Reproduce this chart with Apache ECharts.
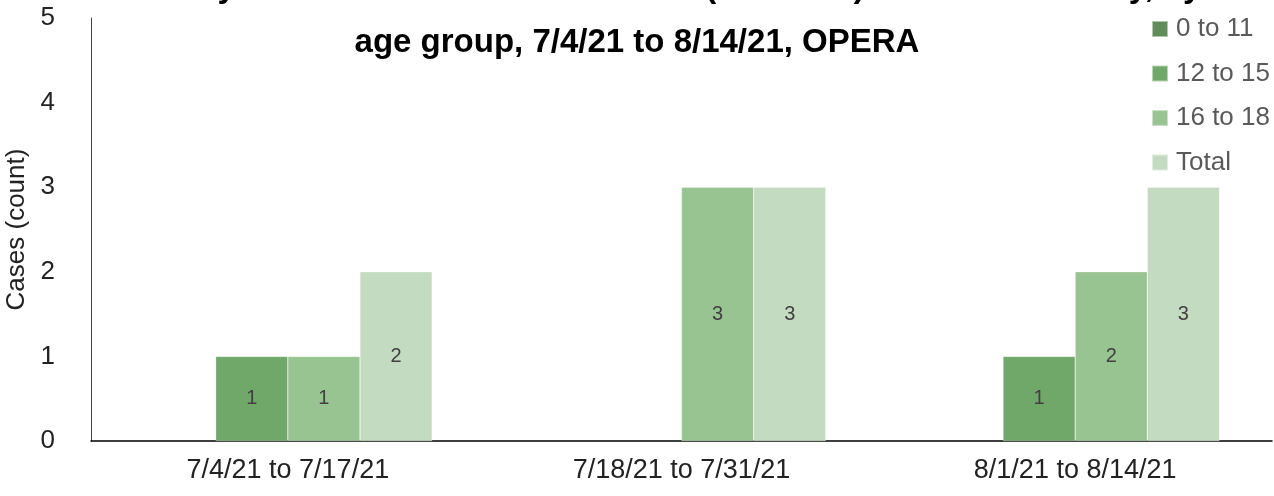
<!DOCTYPE html>
<html>
<head>
<meta charset="utf-8">
<title>Cases by age group</title>
<script src="https://cdn.jsdelivr.net/npm/echarts@6/dist/echarts.min.js"></script>
<style>
  html, body {
    margin: 0;
    padding: 0;
    background: #fff;
  }
  #main {
    width: 1274px;
    height: 496px;
  }
</style>
</head>
<body>
<div id="main"></div>
<script>
// 数据
const periods = ['7/4/21 to 7/17/21', '7/18/21 to 7/31/21', '8/1/21 to 8/14/21'];
const ageGroups = ['0 to 11', '12 to 15', '16 to 18', 'Total'];
const age0to11 = [null, null, null];
const age12to15 = [1, null, 1];
const age16to18 = [1, 3, 2];
const totals = [2, 3, 3];
const yTicks = [0, 1, 2, 3, 4, 5];

const barColors = ['#5f8c58', '#70a869', '#98c491', '#c3dbc0'];
const FONT = '"Liberation Sans", Arial, sans-serif';

// 每个系列一组柱子
function makeSeries(name, values, color) {
  return {
    name: name,
    type: 'bar',
    data: values,
    barGap: '0%',
    barCategoryGap: '26.7%',
    itemStyle: {
      color: color,
      borderColor: 'rgba(255,255,255,0.5)',
      borderWidth: 0.5
    },
    label: {
      show: true,
      position: 'inside',
      fontFamily: FONT,
      fontSize: 20,
      color: '#404040'
    }
  };
}

function drawChart() {
  const chartDom = document.getElementById('main');
  const myChart = echarts.init(chartDom, null, { renderer: 'canvas' });

  const option = {
    animation: false,
    textStyle: { fontFamily: FONT },
    title: [
      {
        // 第一行标题在画面外，只露出底部
        text: 'Cases in youth associated with schools (under 19) in OPERA county, by',
        left: 'center',
        top: -34,
        textStyle: { fontFamily: FONT, fontWeight: 'bold', fontSize: 33, color: '#000' }
      },
      {
        text: 'age group, 7/4/21 to 8/14/21, OPERA',
        left: 'center',
        top: 21,
        textStyle: { fontFamily: FONT, fontWeight: 'bold', fontSize: 33, color: '#000' }
      }
    ],
    legend: {
      orient: 'vertical',
      left: 1151,
      top: 16,
      padding: 0,
      icon: 'rect',
      itemWidth: 16,
      itemHeight: 16,
      itemGap: 18.5,
      data: ageGroups,
      textStyle: {
        fontFamily: FONT,
        fontSize: 26,
        lineHeight: 26,
        color: '#595959',
        padding: [0, 0, 0, 3]
      }
    },
    grid: {
      left: 91,
      right: 2,
      top: 18,
      bottom: 55,
      containLabel: false,
      outerBoundsMode: 'none'
    },
    xAxis: {
      type: 'category',
      data: periods,
      axisLine: { show: true, lineStyle: { color: '#000', width: 1.5 } },
      axisTick: { show: false },
      axisLabel: {
        fontFamily: FONT,
        fontSize: 27,
        color: '#222',
        margin: 16
      }
    },
    yAxis: {
      type: 'value',
      min: yTicks[0],
      max: yTicks[yTicks.length - 1],
      interval: 1,
      name: 'Cases (count)',
      nameLocation: 'middle',
      nameGap: 56,
      nameTextStyle: { fontFamily: FONT, fontSize: 26, color: '#222' },
      axisLine: { show: true, lineStyle: { color: '#444', width: 1 } },
      axisTick: { show: false },
      splitLine: { show: false },
      axisLabel: {
        fontFamily: FONT,
        fontSize: 26,
        color: '#222',
        margin: 36
      }
    },
    series: [
      makeSeries(ageGroups[0], age0to11, barColors[0]),
      makeSeries(ageGroups[1], age12to15, barColors[1]),
      makeSeries(ageGroups[2], age16to18, barColors[2]),
      makeSeries(ageGroups[3], totals, barColors[3])
    ]
  };

  option && myChart.setOption(option);
}

drawChart();
</script>
</body>
</html>
